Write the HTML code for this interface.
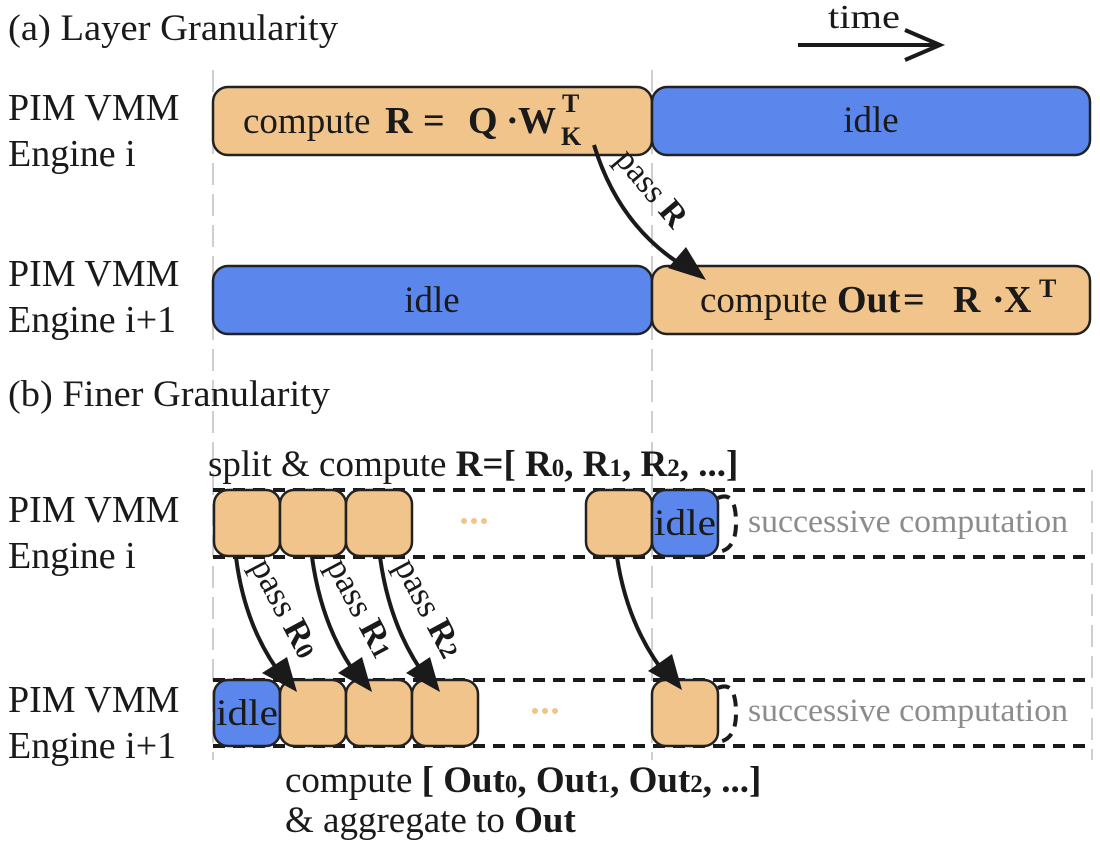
<!DOCTYPE html>
<html><head><meta charset="utf-8"><style>
html,body{margin:0;padding:0;background:#fff;}
svg{display:block;}
text{font-family:"Liberation Serif","Times New Roman",serif;fill:#1a1a1a;}
</style></head><body>
<svg width="1100" height="846" viewBox="0 0 1100 846" xmlns="http://www.w3.org/2000/svg">
<!-- gray dashed verticals -->
<g stroke="#cfcfcf" stroke-width="2" stroke-dasharray="22,9">
<line x1="213" y1="70" x2="213" y2="760"/>
<line x1="652" y1="70" x2="652" y2="760"/>
<line x1="1092" y1="470" x2="1092" y2="760"/>
</g>
<!-- titles -->
<text x="8" y="40" font-size="37" textLength="330" lengthAdjust="spacingAndGlyphs">(a) Layer Granularity</text>
<text x="8" y="406" font-size="37" textLength="322" lengthAdjust="spacingAndGlyphs">(b) Finer Granularity</text>
<text x="828" y="28" font-size="34" textLength="72" lengthAdjust="spacingAndGlyphs">time</text>
<line x1="798" y1="45" x2="935" y2="45" stroke="#1a1a1a" stroke-width="4"/>
<polyline points="905,30 940,45 905,60" fill="none" stroke="#1a1a1a" stroke-width="4"/>
<!-- row labels -->
<g font-size="38">
<text x="8" y="120">PIM VMM</text><text x="8" y="166">Engine i</text>
<text x="8" y="286">PIM VMM</text><text x="8" y="332">Engine i+1</text>
<text x="8" y="522">PIM VMM</text><text x="8" y="568">Engine i</text>
<text x="8" y="712">PIM VMM</text><text x="8" y="758">Engine i+1</text>
</g>
<!-- (a) bars -->
<g stroke="#222" stroke-width="2.5">
<rect x="213" y="87" width="439" height="68" rx="15" fill="#F0C48A"/>
<rect x="652" y="87" width="438" height="68" rx="15" fill="#5B86EC"/>
<rect x="213" y="266" width="439" height="68" rx="15" fill="#5B86EC"/>
<rect x="652" y="266" width="438" height="68" rx="15" fill="#F0C48A"/>
</g>
<text x="243" y="133" font-size="37">compute</text>
<g font-weight="bold" font-size="38">
<text x="385" y="133">R</text><text x="423" y="133">=</text><text x="468" y="133">Q</text>
<text x="506" y="133">·</text><text x="518" y="133">W</text>
<text x="837" y="312" font-size="38">Out</text><text x="903" y="312">=</text><text x="953" y="312">R</text>
<text x="992" y="312">·</text><text x="1004" y="312">X</text>
</g>
<text x="562" y="112" font-size="26" font-weight="bold">T</text>
<text x="561" y="145" font-size="26" font-weight="bold">K</text>
<text x="1039" y="297" font-size="26" font-weight="bold">T</text>
<text x="700" y="312" font-size="37">compute</text>
<text x="871" y="132" font-size="37" text-anchor="middle">idle</text>
<text x="432" y="312" font-size="37" text-anchor="middle">idle</text>
<!-- pass R arrow -->
<path d="M594,145 Q620,230 690,270" fill="none" stroke="#1a1a1a" stroke-width="4"/>
<polygon points="706,280 668,268 686,247" fill="#1a1a1a"/>
<text font-size="34" transform="translate(614,160) rotate(50)">pass <tspan font-weight="bold">R</tspan></text>
<!-- (b) header -->
<text x="208" y="476" font-size="37">split &amp; compute <tspan font-weight="bold">R=[ R<tspan font-size="25">0</tspan>, R<tspan font-size="25">1</tspan>, R<tspan font-size="25">2</tspan>, ...]</tspan></text>
<!-- dashed lanes -->
<g stroke="#1a1a1a" stroke-width="4" stroke-dasharray="12,8" fill="none">
<line x1="213" y1="490" x2="1092" y2="490"/>
<line x1="213" y1="557" x2="1092" y2="557"/>
<line x1="213" y1="680" x2="1092" y2="680"/>
<line x1="213" y1="746" x2="1092" y2="746"/>
<path d="M718,498 Q736,490 736,523 Q736,550 718,552"/>
<path d="M718,688 Q736,680 736,713 Q736,740 718,742"/>
</g>
<!-- boxes -->
<g stroke="#222" stroke-width="2.5">
<rect x="214" y="490" width="66" height="66" rx="14" fill="#F0C48A"/>
<rect x="280" y="490" width="66" height="66" rx="14" fill="#F0C48A"/>
<rect x="346" y="490" width="66" height="66" rx="14" fill="#F0C48A"/>
<rect x="586" y="490" width="66" height="66" rx="14" fill="#F0C48A"/>
<rect x="652" y="490" width="66" height="66" rx="14" fill="#5B86EC"/>
<rect x="214" y="680" width="66" height="66" rx="14" fill="#5B86EC"/>
<rect x="280" y="680" width="66" height="66" rx="14" fill="#F0C48A"/>
<rect x="346" y="680" width="66" height="66" rx="14" fill="#F0C48A"/>
<rect x="412" y="680" width="66" height="66" rx="14" fill="#F0C48A"/>
<rect x="652" y="680" width="66" height="66" rx="14" fill="#F0C48A"/>
</g>
<text x="685" y="535" font-size="37" text-anchor="middle" textLength="62" lengthAdjust="spacingAndGlyphs">idle</text>
<text x="247" y="725" font-size="37" text-anchor="middle" textLength="62" lengthAdjust="spacingAndGlyphs">idle</text>
<g fill="#F0C48A"><circle cx="464" cy="521" r="3"/><circle cx="474" cy="521" r="3"/><circle cx="484" cy="521" r="3"/>
<circle cx="535" cy="711" r="3"/><circle cx="545" cy="711" r="3"/><circle cx="555" cy="711" r="3"/></g>
<text x="748" y="532" font-size="33" style="fill:#8c8c8c" textLength="320" lengthAdjust="spacingAndGlyphs">successive computation</text>
<text x="748" y="721" font-size="33" style="fill:#8c8c8c" textLength="320" lengthAdjust="spacingAndGlyphs">successive computation</text>
<!-- pass arrows -->
<g fill="none" stroke="#1a1a1a" stroke-width="4">
<path d="M236,557 Q245,630 285,680"/>
<path d="M312,557 Q322,630 360,680"/>
<path d="M380,557 Q390,630 428,680"/>
<path d="M617,557 Q628,630 670,680"/>
</g>
<g fill="#1a1a1a">
<polygon points="297,692 262,673 287,657"/>
<polygon points="372,692 338,673 362,657"/>
<polygon points="440,692 406,673 430,657"/>
<polygon points="682,690 648,671 672,654"/>
</g>
<g font-size="35">
<text transform="translate(250,566) rotate(62)">pass <tspan font-weight="bold">R<tspan font-size="25">0</tspan></tspan></text>
<text transform="translate(326,566) rotate(62)">pass <tspan font-weight="bold">R<tspan font-size="25">1</tspan></tspan></text>
<text transform="translate(394,566) rotate(62)">pass <tspan font-weight="bold">R<tspan font-size="25">2</tspan></tspan></text>
</g>
<text x="285" y="792" font-size="37">compute <tspan font-weight="bold">[ Out<tspan font-size="25">0</tspan>, Out<tspan font-size="25">1</tspan>, Out<tspan font-size="25">2</tspan>, ...]</tspan></text>
<text x="285" y="832" font-size="37">&amp; aggregate to <tspan font-weight="bold">Out</tspan></text>
</svg>
</body></html>
